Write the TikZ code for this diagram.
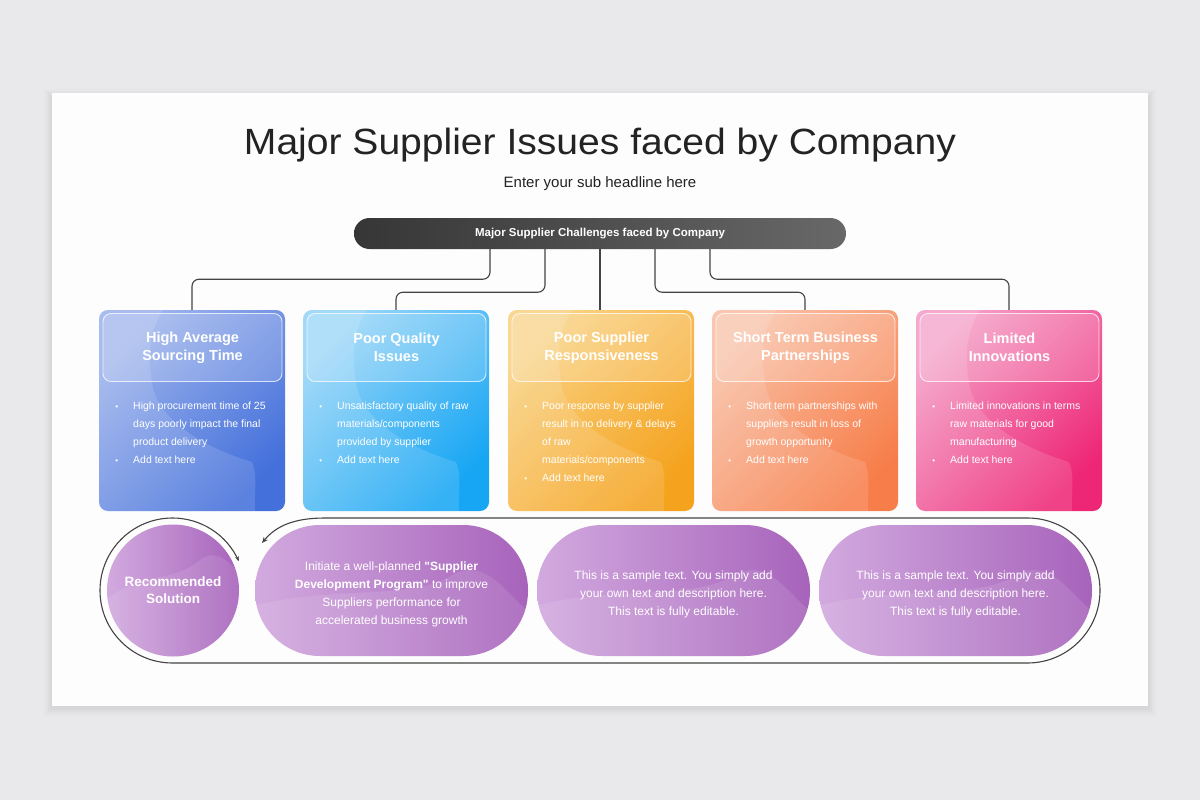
\documentclass[tikz,border=0pt]{standalone}
\usepackage{fontspec}
\setmainfont{Liberation Sans}
\newfontfamily\titlefont[FakeStretch=1.07]{Liberation Sans}
\usetikzlibrary{arrows.meta,calc}
\definecolor{bg}{HTML}{E9E8EA}
\definecolor{slide}{HTML}{FDFDFD}
\definecolor{linec}{HTML}{444444}
\definecolor{titlec}{HTML}{232323}
\definecolor{bara}{HTML}{363636}
\definecolor{barb}{HTML}{686868}
\definecolor{ba}{HTML}{9DB3EC}\definecolor{bb}{HTML}{4470DB}
\definecolor{qa}{HTML}{95D4F7}\definecolor{qb}{HTML}{17A6F4}
\definecolor{ya}{HTML}{F9D283}\definecolor{yb}{HTML}{F5A31F}
\definecolor{sa}{HTML}{F9BFA4}\definecolor{sb}{HTML}{F77E4A}
\definecolor{ka}{HTML}{F49DC6}\definecolor{kb}{HTML}{EE2676}
\definecolor{pa}{HTML}{D2AADF}\definecolor{pb}{HTML}{A763BB}
\newcommand\bul{\makebox[0pt][r]{\fontsize{8}{8}\selectfont\textbullet\hspace{15pt}}}
\newcommand\supcard[6]{%
  \node[card, top color=#3, bottom color=#4, shading angle=45] (#1) at (#2,410.5) {};
  \begin{scope}
    \clip[rounded corners=9pt] (#2-93,310) rectangle (#2+93,511);
    \fill[white, opacity=0.13] (#2-93,310) -- (#2-29,310)
      .. controls (#2-45,335) and (#2-44,360) .. (#2-39,388)
      .. controls (#2-30,425) and (#2+20,450) .. (#2+60,462)
      .. controls (#2+66,475) and (#2+62,495) .. (#2+63,511)
      -- (#2-93,511) -- cycle;
  \end{scope}
  \node[hdr] (#1h) at (#2+0.5,347.5) {#5};
  \node[body] (#1b) at (#2-59,402) {#6};
}
\newcommand\pillwave[1]{%
  \begin{scope}
    \clip[rounded corners=65pt] ($(#1.center)+(-136.5,-65.5)$) rectangle ($(#1.center)+(136.5,65.5)$);
    \fill[white, opacity=0.10] ($(#1.center)+(-136.5,15)$)
      .. controls ($(#1.center)+(-60,-5)$) and ($(#1.center)+(20,10)$) .. ($(#1.center)+(60,-15)$)
      .. controls ($(#1.center)+(95,-35)$) and ($(#1.center)+(115,5)$) .. ($(#1.center)+(136.5,20)$)
      -- ($(#1.center)+(136.5,65.5)$) -- ($(#1.center)+(-136.5,65.5)$) -- cycle;
  \end{scope}
}
\begin{document}
\begin{tikzpicture}[x=1pt,y=-1pt,
  conn/.style={draw=linec, line width=1.1pt, rounded corners=7pt},
  card/.style={rectangle, rounded corners=9pt, minimum width=186pt, minimum height=201pt, inner sep=0pt},
  hdr/.style={rectangle, rounded corners=8pt, minimum width=179pt, minimum height=68pt,
    draw=white, draw opacity=0.75, fill=white, fill opacity=0.16, text opacity=1, line width=0.9pt,
    text=white, align=center, font=\bfseries\fontsize{14.5}{18}\selectfont},
  body/.style={anchor=north west, inner sep=0pt, align=left, text=white,
    font=\fontsize{10.5}{18}\selectfont},
  bar/.style={rectangle, rounded corners=15.5pt, minimum width=492pt, minimum height=31pt,
    left color=bara, right color=barb, text=white, font=\bfseries\fontsize{11.5}{13}\selectfont},
  pill/.style={rectangle, rounded corners=65pt, minimum width=273pt, minimum height=131pt,
    left color=pa, right color=pb},
  ptext/.style={text=white, align=center, font=\fontsize{12}{18}\selectfont},
  track/.style={draw=linec, line width=1.1pt}
]
\useasboundingbox (0,0) rectangle (1200,800);
\fill[bg] (0,0) rectangle (1200,800);
\foreach \s/\o in {8/0.012,6/0.015,4/0.02,2/0.025}
  \fill[black,opacity=\o] (52-\s,93-\s+4) rectangle (1148+\s,706+\s+2);
\fill[slide] (52,93) rectangle (1148,706);

\node[text=titlec, font=\titlefont\fontsize{36.5}{40}\selectfont] (title) at (600,145) {Major Supplier Issues faced by Company};
\node[text=titlec, font=\fontsize{15}{17}\selectfont] (sub) at (600,183.5) {Enter your sub headline here};

\node[bar] (bar) at (600,233.5) {Major Supplier Challenges faced by Company};

\supcard{c1}{192}{ba}{bb}{High Average\\Sourcing Time}{\bul High procurement time of 25\\days poorly impact the final\\product delivery\\\bul Add text here}
\supcard{c2}{396}{qa}{qb}{Poor Quality\\Issues}{\bul Unsatisfactory quality of raw\\materials/components\\provided by supplier\\\bul Add text here}
\supcard{c3}{601}{ya}{yb}{Poor Supplier\\Responsiveness}{\bul Poor response by supplier\\result in no delivery \& delays\\of raw\\materials/components\\\bul Add text here}
\supcard{c4}{805}{sa}{sb}{Short Term Business\\Partnerships}{\bul Short term partnerships with\\suppliers result in loss of\\growth opportunity\\\bul Add text here}
\supcard{c5}{1009}{ka}{kb}{Limited\\Innovations}{\bul Limited innovations in terms\\raw materials for good\\manufacturing\\\bul Add text here}

\draw[conn] ([xshift=-110pt]bar.south) -- ++(0,30) -| (c1.north);
\draw[conn] ([xshift=-55pt]bar.south) -- ++(0,43) -| (c2.north);
\draw[conn] (bar.south) -- (bar.south |- c3.north);
\draw[conn] ([xshift=55pt]bar.south) -- ++(0,43) -| (c4.north);
\draw[conn] ([xshift=110pt]bar.south) -- ++(0,30) -| (c5.north);

% bottom
\node[circle, minimum size=132pt, inner sep=0pt, left color=pa, right color=pb] (rs) at (173,590.5) {};
\begin{scope}
  \clip (rs) circle[radius=66];
  \fill[white, opacity=0.10] (107,600) .. controls (140,570) and (170,585) .. (200,560)
    .. controls (220,545) and (235,570) .. (245,580) -- (245,660) -- (107,660) -- cycle;
\end{scope}
\node[text=white, align=center, font=\bfseries\fontsize{13.5}{17}\selectfont] (rst) at (rs.center) {Recommended\\Solution};

\node[pill] (p1) at (391.5,590.5) {};
\node[pill] (p2) at (673.5,590.5) {};
\node[pill] (p3) at (955.5,590.5) {};
\pillwave{p1}\pillwave{p2}\pillwave{p3}
\node[ptext] (p1t) at (391.5,594.5) {Initiate a well-planned \textbf{\textquotedbl Supplier}\\\textbf{Development Program\textquotedbl} to improve\\Suppliers performance for\\accelerated business growth};
\node[ptext] (p2t) at (673.5,594.5) {This is a sample text. You simply add\\your own text and description here.\\This text is fully editable.};
\node[ptext] (p3t) at (955.5,594.5) {This is a sample text. You simply add\\your own text and description here.\\This text is fully editable.};

\coordinate (ta) at (262,543);
\coordinate (tb) at (238.7,561);
\draw[track, {Stealth[length=6pt,width=5pt]}-{Stealth[length=5pt,width=4pt]}] (ta) .. controls (276,526) and (294,518) .. (325,518)
  -- (1027.5,518) arc[start angle=-90, end angle=90, radius=72.5]
  -- (172.5,663) arc[start angle=90, end angle=335.5, radius=72.5] -- (tb);
\end{tikzpicture}
\end{document}
